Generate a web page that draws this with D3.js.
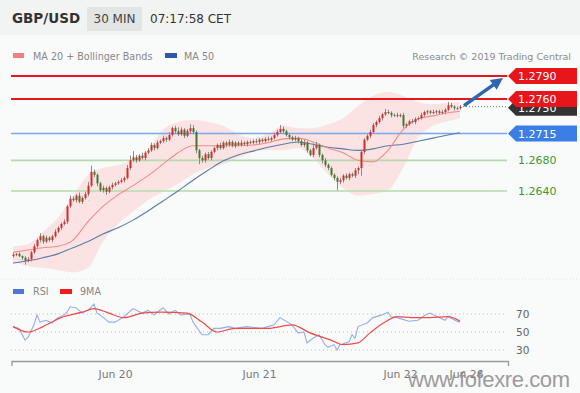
<!DOCTYPE html>
<html>
<head>
<meta charset="utf-8">
<script src="https://cdnjs.cloudflare.com/ajax/libs/d3/7.8.5/d3.min.js"></script>
<style>
  body { margin: 0; background: #fff; }
  svg { display: block; font-family: "DejaVu Sans", sans-serif; }
</style>
</head>
<body>
<div id="chart"></div>
<script>
// ---- data (30 min candles, GBP/USD) ----
const firstOpen = 1.2555;
const closes = [
  1.2557,1.2558,1.2555,1.2553,1.2549,1.2551,1.2560,1.2568,1.2576,1.2581,
  1.2574,1.2579,1.2576,1.2581,1.2587,1.2592,1.2597,1.2600,1.2620,1.2630,
  1.2628,1.2634,1.2626,1.2631,1.2636,1.2647,1.2665,1.2661,1.2650,1.2641,
  1.2644,1.2639,1.2645,1.2648,1.2650,1.2652,1.2654,1.2657,1.2670,1.2680,
  1.2684,1.2680,1.2686,1.2683,1.2690,1.2693,1.2700,1.2696,1.2703,1.2705,
  1.2709,1.2707,1.2713,1.2722,1.2718,1.2714,1.2720,1.2712,1.2718,1.2722,
  1.2717,1.2693,1.2683,1.2680,1.2688,1.2683,1.2691,1.2696,1.2700,1.2696,
  1.2703,1.2700,1.2704,1.2699,1.2703,1.2700,1.2703,1.2701,1.2704,1.2703,
  1.2705,1.2704,1.2707,1.2705,1.2708,1.2707,1.2709,1.2713,1.2717,1.2721,
  1.2718,1.2713,1.2710,1.2707,1.2709,1.2705,1.2700,1.2703,1.2693,1.2687,
  1.2696,1.2700,1.2687,1.2680,1.2674,1.2670,1.2661,1.2657,1.2652,1.2654,
  1.2660,1.2657,1.2662,1.2660,1.2667,1.2670,1.2691,1.2707,1.2712,1.2717,
  1.2726,1.2730,1.2735,1.2740,1.2743,1.2742,1.2739,1.2739,1.2738,1.2739,
  1.2725,1.2727,1.2731,1.2730,1.2734,1.2735,1.2739,1.2743,1.2744,1.2742,
  1.2743,1.2744,1.2742,1.2743,1.2746,1.2752,1.2750,1.2748,1.2748,1.2750
];
// wick length beyond the body, in pips
const wickHi = [
  2,1,2,1,2,3,2,3,2,4, 2,3,2,2,3,2,2,3,2,4, 3,2,4,2,3,5,8,3,2,2,
  3,2,2,3,2,2,3,2,4,6, 8,3,2,4,2,3,3,2,3,2, 3,2,4,2,3,5,3,2,3,5,
  4,2,2,3,2,3,2,2,2,3, 2,2,3,2,2,2,3,2,2,2, 2,3,2,2,2,3,2,3,3,5,
  3,2,2,2,3,2,3,4,2,2, 6,4,2,2,3,2,2,2,2,3, 2,3,2,2,3,2,3,2,2,3,
  3,2,3,2,4,3,2,2,3,2, 3,2,2,3,2,2,3,2,2,2, 3,2,2,3,2,4,3,2,2,2
];
const wickLo = [
  2,2,1,3,5,2,3,2,2,3, 3,2,2,3,2,2,3,2,3,2, 2,3,2,3,2,3,2,3,4,2,
  3,4,2,3,2,2,2,3,2,3, 2,3,2,2,3,2,2,3,2,2, 2,3,2,2,3,2,2,3,2,3,
  3,4,8,3,3,2,3,2,3,2, 2,3,2,2,3,2,2,2,3,2, 2,2,3,2,2,2,3,2,2,2,
  3,2,3,2,2,3,2,3,3,2, 3,2,3,4,3,3,2,3,11,3, 3,2,3,2,3,5,10,3,2,3,
  2,3,2,3,2,2,3,2,2,2, 3,3,2,2,3,2,2,2,3,2, 2,3,2,2,3,2,2,3,2,2
];

// indicators sampled every 5 candles
const maIdx   = [0,5,10,15,20,25,30,35,40,45,50,55,60,65,70,75,80,85,90,95,100,105,110,115,120,125,130,135,140,145,149];
const ma20    = [1.2560,1.2563,1.2566,1.2568,1.2576,1.2600,1.2620,1.2635,1.2647,1.2660,1.2675,1.2690,1.2699,1.2699,1.2699,1.2699,1.2700,1.2703,1.2708,1.2709,1.2704,1.2696,1.2690,1.2680,1.2678,1.2693,1.2720,1.2734,1.2738,1.2742,1.2744];
const bbUpper = [1.2568,1.2571,1.2587,1.2605,1.2634,1.2661,1.2670,1.2674,1.2680,1.2693,1.2720,1.2730,1.2733,1.2730,1.2725,1.2714,1.2709,1.2714,1.2725,1.2722,1.2722,1.2727,1.2735,1.2751,1.2764,1.2769,1.2764,1.2756,1.2753,1.2755,1.2756];
const bbLower = [1.2548,1.2542,1.2540,1.2537,1.2534,1.2540,1.2574,1.2597,1.2613,1.2628,1.2639,1.2649,1.2662,1.2670,1.2675,1.2683,1.2691,1.2693,1.2693,1.2696,1.2683,1.2662,1.2644,1.2634,1.2636,1.2641,1.2670,1.2709,1.2725,1.2731,1.2735];
const ma50    = [1.2546,1.2549,1.2553,1.2558,1.2566,1.2574,1.2584,1.2592,1.2602,1.2614,1.2627,1.2640,1.2654,1.2667,1.2679,1.2687,1.2692,1.2697,1.2701,1.2704,1.2701,1.2697,1.2695,1.2693,1.2695,1.2699,1.2701,1.2705,1.2709,1.2713,1.2716];

// RSI and its 9 period MA
const rsiIdx = [0,2,4,5,7,8,9,11,13,15,17,18,19,21,23,25,27,28,29,32,34,37,40,43,45,47,50,52,54,56,59,60,63,65,67,69,72,74,78,83,85,87,89,93,95,97,98,100,102,104,105,107,108,109,112,113,114,115,118,120,123,125,126,128,132,135,137,139,142,144,145,148,149];
const rsiVal = [56,54,41,44,58,69,61,63,60,66,69,72,78,77,71,74,81,71,69,61,61,67,76,71,74,69,77,70,74,69,70,61,47,47,54,54,56,54,56,54,56,58,66,58,49,50,38,43,47,36,33,36,30,36,39,47,43,56,60,66,69,72,67,66,62,63,68,71,66,63,67,62,61];
const rsiMaIdx = [0,5,10,16,23,27,32,37,43,49,58,63,68,74,85,93,99,106,110,115,119,124,128,133,139,145,149];
const rsiMaVal = [56,50,56,66,72,76,71,66,71,72,71,61,50,54,54,58,49,41,36,38,49,61,67,66,66,67,62];

// horizontal levels
const levelVals  = [1.2790, 1.2760, 1.2715, 1.2680, 1.2640];
const levelKinds = ["res", "res", "pivot", "sup", "sup"];
const lastPrice = 1.2750;
const rsiTicks = [30, 50, 70];
const dateTickIdx = [34, 82, 129, 151];
const dateTickLabels = ["Jun 20", "Jun 21", "Jun 22", "Jun 26"];

// ---- layout ----
const W = 580, H = 393;
const svg = d3.select("#chart").append("svg")
    .attr("width", W).attr("height", H);

// background
svg.append("rect").attr("width", W).attr("height", H).attr("fill", "#f9fafa");
svg.append("rect").attr("width", W).attr("height", 35).attr("fill", "#f2f3f3");

// header
svg.append("text").attr("x", 12).attr("y", 23)
    .attr("font-size", 13.5).attr("font-weight", "bold").attr("fill", "#333")
    .text("GBP/USD");
svg.append("rect").attr("x", 87).attr("y", 7).attr("width", 55).attr("height", 24)
    .attr("fill", "#e3e4e4");
svg.append("text").attr("x", 114.5).attr("y", 23).attr("text-anchor", "middle")
    .attr("font-size", 12).attr("fill", "#444").text("30 MIN");
svg.append("text").attr("x", 150).attr("y", 23)
    .attr("font-size", 12).attr("fill", "#333").text("07:17:58 CET");

// legend
svg.append("rect").attr("x", 13).attr("y", 53).attr("width", 11).attr("height", 5).attr("fill", "#f47f7f");
svg.append("text").attr("x", 33).attr("y", 60).attr("font-size", 9.6).attr("fill", "#888")
    .text("MA 20 + Bollinger Bands");
svg.append("rect").attr("x", 165).attr("y", 53).attr("width", 12).attr("height", 5).attr("fill", "#2f58a6");
svg.append("text").attr("x", 184).attr("y", 60).attr("font-size", 9.6).attr("fill", "#888")
    .text("MA 50");
svg.append("text").attr("x", 571).attr("y", 60).attr("text-anchor", "end")
    .attr("font-size", 9.5).attr("fill", "#8a8a8a")
    .text("Research \u00A9 2019 Trading Central");

// scales
const x = d3.scaleLinear().domain([-0.5, 165]).range([11.5, 508]);
const y = d3.scaleLinear().domain([1.2640, 1.2790]).range([191, 76]);
const yR = d3.scaleLinear().domain([30, 70]).range([350, 314]);
const xL = 11, xR = 507;

// pane separator
svg.append("line").attr("x1", 0).attr("x2", W).attr("y1", 279).attr("y2", 279)
    .attr("stroke", "#e2e4e4").attr("stroke-dasharray", "1,2");

// Bollinger band
const bands = maIdx.map((d, i) => ({ i: d, hi: bbUpper[i], lo: bbLower[i], m20: ma20[i], m50: ma50[i] }));
svg.append("path").datum(bands)
    .attr("fill", "#fbd3d3").attr("opacity", 0.6)
    .attr("d", d3.area().curve(d3.curveMonotoneX)
        .x(d => x(d.i)).y0(d => y(d.lo)).y1(d => y(d.hi)));

// level lines
const levelColor = { res: "#e8161b", pivot: "#7ea6ee", sup: "#b3dbab" };
const levelWidth = { res: 2, pivot: 1.6, sup: 1.6 };
svg.selectAll(".level").data(levelVals).join("line")
    .attr("x1", xL).attr("x2", xR)
    .attr("y1", d => y(d)).attr("y2", d => y(d))
    .attr("stroke", (d, i) => levelColor[levelKinds[i]])
    .attr("stroke-width", (d, i) => levelWidth[levelKinds[i]]);

// moving averages
svg.append("path").datum(bands)
    .attr("fill", "none").attr("stroke", "#5a7ca6").attr("stroke-width", 1.1)
    .attr("d", d3.line().curve(d3.curveMonotoneX).x(d => x(d.i)).y(d => y(d.m50)));
svg.append("path").datum(bands)
    .attr("fill", "none").attr("stroke", "#f28c8c").attr("stroke-width", 1.1)
    .attr("d", d3.line().curve(d3.curveMonotoneX).x(d => x(d.i)).y(d => y(d.m20)));

// candles
const candles = closes.map((c, i) => {
  const o = i === 0 ? firstOpen : closes[i - 1];
  return {
    i, o, c,
    h: Math.max(o, c) + wickHi[i] * 0.0001,
    l: Math.min(o, c) - wickLo[i] * 0.0001
  };
});
const cg = svg.append("g");
cg.selectAll("line").data(candles).join("line")
    .attr("x1", d => x(d.i) + 0.5).attr("x2", d => x(d.i) + 0.5)
    .attr("y1", d => y(d.h)).attr("y2", d => y(d.l))
    .attr("stroke", "#8a8a8a").attr("stroke-width", 1);
cg.selectAll("rect").data(candles).join("rect")
    .attr("x", d => x(d.i) - 0.5)
    .attr("y", d => y(Math.max(d.o, d.c)))
    .attr("width", 2)
    .attr("height", d => Math.max(1, Math.abs(y(d.o) - y(d.c))))
    .attr("fill", d => d.c > d.o ? "#d42b2b" : d.c < d.o ? "#3c7a2c" : "#666");

// last price dotted line
const lastX = x(closes.length - 1);
svg.append("line").attr("x1", lastX + 3).attr("x2", xR)
    .attr("y1", y(lastPrice)).attr("y2", y(lastPrice))
    .attr("stroke", "#777").attr("stroke-dasharray", "1,2");

// level labels
function tag(yy, fill) {
  const p = d3.path();
  p.moveTo(508, yy);
  p.lineTo(516, yy - 8);
  p.lineTo(577, yy - 8);
  p.lineTo(577, yy + 8);
  p.lineTo(516, yy + 8);
  p.closePath();
  svg.append("path").attr("d", p.toString()).attr("fill", fill);
}
tag(y(lastPrice) + 1, "#333");
svg.append("text").attr("x", 518).attr("y", y(lastPrice) + 5)
    .attr("font-size", 11).attr("fill", "#fff").text(d3.format(".4f")(lastPrice));

levelVals.forEach((v, i) => {
  const k = levelKinds[i];
  if (k === "res") tag(y(v), "#e8161b");
  if (k === "pivot") tag(y(v), "#3b7ee6");
  svg.append("text").attr("x", 518).attr("y", y(v) + 4)
      .attr("font-size", 11)
      .attr("fill", k === "sup" ? "#3a9a2e" : "#fff")
      .text(d3.format(".4f")(v));
});

// arrow toward target
const ax0 = lastX + 4, ay0 = y(lastPrice) - 1;
const ax1 = 503, ay1 = y(levelVals[0]) + 2;
const ang = Math.atan2(ay1 - ay0, ax1 - ax0);
svg.append("line").attr("x1", ax0).attr("y1", ay0)
    .attr("x2", ax1 - 8 * Math.cos(ang)).attr("y2", ay1 - 8 * Math.sin(ang))
    .attr("stroke", "#2e64b0").attr("stroke-width", 3.5);
const hp = [[ax1, ay1],
  [ax1 - 12 * Math.cos(ang) + 6 * Math.sin(ang), ay1 - 12 * Math.sin(ang) - 6 * Math.cos(ang)],
  [ax1 - 12 * Math.cos(ang) - 6 * Math.sin(ang), ay1 - 12 * Math.sin(ang) + 6 * Math.cos(ang)]];
svg.append("polygon").attr("points", hp.map(p => p.join(",")).join(" ")).attr("fill", "#2e64b0");

// ---- RSI pane ----
svg.append("rect").attr("x", 13).attr("y", 289).attr("width", 11).attr("height", 5).attr("fill", "#4f79d8");
svg.append("text").attr("x", 33).attr("y", 295).attr("font-size", 9.6).attr("fill", "#888").text("RSI");
svg.append("rect").attr("x", 60).attr("y", 289).attr("width", 12).attr("height", 5).attr("fill", "#ee1c1c");
svg.append("text").attr("x", 80).attr("y", 295).attr("font-size", 9.6).attr("fill", "#888").text("9MA");

svg.selectAll(".rsigrid").data(rsiTicks).join("line")
    .attr("x1", xL).attr("x2", xR)
    .attr("y1", d => yR(d)).attr("y2", d => yR(d))
    .attr("stroke", "#d9b4b4").attr("stroke-dasharray", "1,3");

svg.append("g").attr("transform", "translate(512,0)")
    .call(d3.axisRight(yR).tickValues(rsiTicks).tickSize(0).tickPadding(4))
    .call(g => g.select(".domain").remove())
    .selectAll("text").attr("font-size", 10.5).attr("fill", "#666")
    .attr("font-family", "DejaVu Sans, sans-serif");

const rsiPts = rsiIdx.map((d, i) => ({ i: d, v: rsiVal[i] }));
const rsiMaPts = rsiMaIdx.map((d, i) => ({ i: d, v: rsiMaVal[i] }));
svg.append("path").datum(rsiPts)
    .attr("fill", "none").attr("stroke", "#94aee6").attr("stroke-width", 1.1)
    .attr("d", d3.line().x(d => x(d.i)).y(d => yR(d.v)));
svg.append("path").datum(rsiMaPts)
    .attr("fill", "none").attr("stroke", "#ef4b4b").attr("stroke-width", 1.2)
    .attr("d", d3.line().curve(d3.curveMonotoneX).x(d => x(d.i)).y(d => yR(d.v)));

// date axis
const xAxis = svg.append("g").attr("transform", "translate(0,361)")
    .call(d3.axisBottom(x).tickValues(dateTickIdx)
        .tickFormat((d, i) => dateTickLabels[i])
        .tickSizeInner(0).tickSizeOuter(5).tickPadding(9));
xAxis.select(".domain").attr("stroke", "#9a9a9a").attr("stroke-width", 1.3);
xAxis.selectAll("text").attr("font-size", 10.8).attr("fill", "#777")
    .attr("font-family", "DejaVu Sans, sans-serif");

// watermark
svg.append("text").attr("x", 408).attr("y", 387)
    .attr("font-family", "Liberation Sans, Arial, sans-serif")
    .attr("font-size", 22).attr("fill", "#8c8c8c").attr("opacity", 0.85)
    .attr("textLength", 162).text("www.fofexre.com");
</script>
</body>
</html>
